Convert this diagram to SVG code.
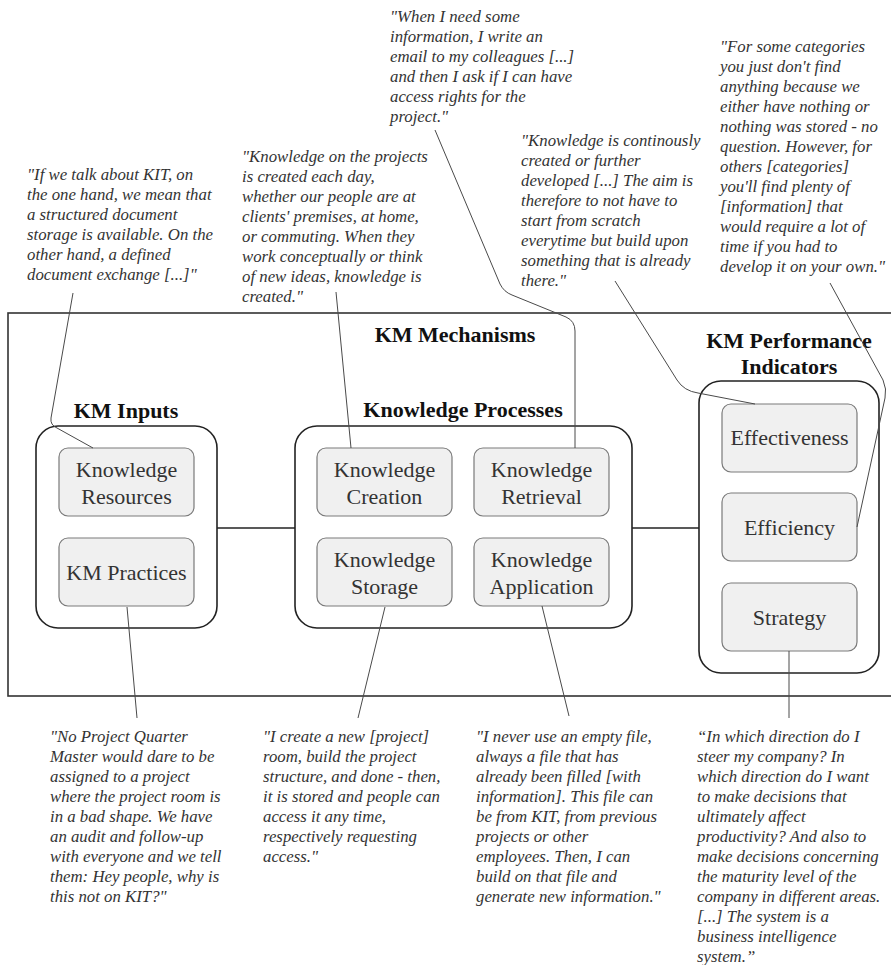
<svg xmlns="http://www.w3.org/2000/svg" width="891" height="965" viewBox="0 0 891 965">
  <style>
    .q { font-family: "Liberation Serif", "Times New Roman", serif; font-style: italic; font-size: 16.8px; fill: #333; }
    .h { font-family: "Liberation Serif", "Times New Roman", serif; font-weight: bold; font-size: 22px; fill: #111; text-anchor: middle; }
    .t { font-family: "Liberation Serif", "Times New Roman", serif; font-size: 22px; fill: #333; text-anchor: middle; }
    .box { fill: #f0f0f0; stroke: #7a7a7a; stroke-width: 1.2; }
    .grp { fill: #fff; stroke: #222; stroke-width: 1.6; }
    .frame { fill: #fff; stroke: #333; stroke-width: 1.6; }
    .wire { stroke: #222; stroke-width: 1.6; fill: none; }
    .link { fill: none; stroke: #4a4a4a; stroke-width: 1; }
  </style>

  <!-- overall mechanisms frame (runs past the right edge) -->
  <g id="km-mechanisms">
    <rect class="frame" x="8" y="313" width="900" height="383"/>
    <text class="h" x="455" y="342">KM Mechanisms</text>
  </g>

  <!-- links between the three groups -->
  <g id="connectors">
    <line class="wire" x1="217" y1="528" x2="295" y2="528"/>
    <line class="wire" x1="632" y1="528" x2="699" y2="528"/>
  </g>

  <g id="km-inputs">
    <rect class="grp" x="36" y="426" width="181" height="202" rx="22"/>
    <text class="h" x="126" y="418">KM Inputs</text>
  </g>
  <g id="knowledge-resources">
    <rect class="box" x="59" y="448" width="135" height="68" rx="9"/>
    <text class="t" x="126.5" y="477">Knowledge</text>
    <text class="t" x="126.5" y="504">Resources</text>
  </g>
  <g id="km-practices">
    <rect class="box" x="59" y="538" width="135" height="68" rx="9"/>
    <text class="t" x="126.5" y="580">KM Practices</text>
  </g>

  <g id="knowledge-processes">
    <rect class="grp" x="295" y="426" width="337" height="202" rx="22"/>
    <text class="h" x="463" y="417">Knowledge Processes</text>
  </g>
  <g id="knowledge-creation">
    <rect class="box" x="317" y="448" width="135" height="68" rx="9"/>
    <text class="t" x="384.5" y="477">Knowledge</text>
    <text class="t" x="384.5" y="504">Creation</text>
  </g>
  <g id="knowledge-retrieval">
    <rect class="box" x="474" y="448" width="135" height="68" rx="9"/>
    <text class="t" x="541.5" y="477">Knowledge</text>
    <text class="t" x="541.5" y="504">Retrieval</text>
  </g>
  <g id="knowledge-storage">
    <rect class="box" x="317" y="538" width="135" height="68" rx="9"/>
    <text class="t" x="384.5" y="567">Knowledge</text>
    <text class="t" x="384.5" y="594">Storage</text>
  </g>
  <g id="knowledge-application">
    <rect class="box" x="474" y="538" width="135" height="68" rx="9"/>
    <text class="t" x="541.5" y="567">Knowledge</text>
    <text class="t" x="541.5" y="594">Application</text>
  </g>

  <g id="km-performance-indicators">
    <rect class="grp" x="699" y="381" width="180" height="292" rx="22"/>
    <text class="h" x="789" y="348">KM Performance</text>
    <text class="h" x="789" y="374">Indicators</text>
  </g>
  <g id="effectiveness">
    <rect class="box" x="722" y="404" width="135" height="68" rx="9"/>
    <text class="t" x="789.5" y="445">Effectiveness</text>
  </g>
  <g id="efficiency">
    <rect class="box" x="722" y="493" width="135" height="68" rx="9"/>
    <text class="t" x="789.5" y="535">Efficiency</text>
  </g>
  <g id="strategy">
    <rect class="box" x="722" y="583" width="135" height="68" rx="9"/>
    <text class="t" x="789.5" y="625">Strategy</text>
  </g>

  <!-- quote callout leaders -->
  <g id="quote-links">
    <path class="link" d="M73,293 L51,418 Q50,425 57,428 L93,448"/>
    <line class="link" x1="336" y1="292" x2="351" y2="448"/>
    <path class="link" d="M435,130 L500,284 Q504,292 512,295 L566,317 Q575,321 575,331 L575,448"/>
    <path class="link" d="M615,281 L677,380 Q684,391 698,393 L755,404"/>
    <path class="link" d="M830,283 L883,380 Q887,389 885,398 L857,527"/>
    <line class="link" x1="127" y1="607" x2="137" y2="718"/>
    <line class="link" x1="385" y1="607" x2="358" y2="718"/>
    <line class="link" x1="542" y1="606" x2="569" y2="716"/>
    <line class="link" x1="789" y1="651" x2="789" y2="718"/>
  </g>

  <!-- interview quotes -->
  <g id="quote-kit">
    <text class="q">
      <tspan x="27" y="180">"If we talk about KIT, on</tspan>
      <tspan x="27" y="200">the one hand, we mean that</tspan>
      <tspan x="27" y="220">a structured document</tspan>
      <tspan x="27" y="240">storage is available. On the</tspan>
      <tspan x="27" y="260">other hand, a defined</tspan>
      <tspan x="27" y="280">document exchange [...]"</tspan>
    </text>
  </g>
  <g id="quote-creation">
    <text class="q">
      <tspan x="242" y="162">"Knowledge on the projects</tspan>
      <tspan x="242" y="182">is created each day,</tspan>
      <tspan x="242" y="202">whether our people are at</tspan>
      <tspan x="242" y="222">clients' premises, at home,</tspan>
      <tspan x="242" y="242">or commuting. When they</tspan>
      <tspan x="242" y="262">work conceptually or think</tspan>
      <tspan x="242" y="282">of new ideas, knowledge is</tspan>
      <tspan x="242" y="302">created."</tspan>
    </text>
  </g>
  <g id="quote-retrieval">
    <text class="q">
      <tspan x="390" y="22">"When I need some</tspan>
      <tspan x="390" y="42">information, I write an</tspan>
      <tspan x="390" y="62">email to my colleagues [...]</tspan>
      <tspan x="390" y="82">and then I ask if I can have</tspan>
      <tspan x="390" y="102">access rights for the</tspan>
      <tspan x="390" y="122">project."</tspan>
    </text>
  </g>
  <g id="quote-effectiveness">
    <text class="q">
      <tspan x="521" y="146">"Knowledge is continously</tspan>
      <tspan x="521" y="166">created or further</tspan>
      <tspan x="521" y="186">developed [...] The aim is</tspan>
      <tspan x="521" y="206">therefore to not have to</tspan>
      <tspan x="521" y="226">start from scratch</tspan>
      <tspan x="521" y="246">everytime but build upon</tspan>
      <tspan x="521" y="266">something that is already</tspan>
      <tspan x="521" y="286">there."</tspan>
    </text>
  </g>
  <g id="quote-efficiency">
    <text class="q">
      <tspan x="720" y="52">"For some categories</tspan>
      <tspan x="720" y="72">you just don't find</tspan>
      <tspan x="720" y="92">anything because we</tspan>
      <tspan x="720" y="112">either have nothing or</tspan>
      <tspan x="720" y="132">nothing was stored - no</tspan>
      <tspan x="720" y="152">question. However, for</tspan>
      <tspan x="720" y="172">others [categories]</tspan>
      <tspan x="720" y="192">you'll find plenty of</tspan>
      <tspan x="720" y="212">[information] that</tspan>
      <tspan x="720" y="232">would require a lot of</tspan>
      <tspan x="720" y="252">time if you had to</tspan>
      <tspan x="720" y="272">develop it on your own."</tspan>
    </text>
  </g>
  <g id="quote-practices">
    <text class="q">
      <tspan x="50" y="742">"No Project Quarter</tspan>
      <tspan x="50" y="762">Master would dare to be</tspan>
      <tspan x="50" y="782">assigned to a project</tspan>
      <tspan x="50" y="802">where the project room is</tspan>
      <tspan x="50" y="822">in a bad shape. We have</tspan>
      <tspan x="50" y="842">an audit and follow-up</tspan>
      <tspan x="50" y="862">with everyone and we tell</tspan>
      <tspan x="50" y="882">them: Hey people, why is</tspan>
      <tspan x="50" y="902">this not on KIT?"</tspan>
    </text>
  </g>
  <g id="quote-storage">
    <text class="q">
      <tspan x="263" y="742">"I create a new [project]</tspan>
      <tspan x="263" y="762">room, build the project</tspan>
      <tspan x="263" y="782">structure, and done - then,</tspan>
      <tspan x="263" y="802">it is stored and people can</tspan>
      <tspan x="263" y="822">access it any time,</tspan>
      <tspan x="263" y="842">respectively requesting</tspan>
      <tspan x="263" y="862">access."</tspan>
    </text>
  </g>
  <g id="quote-application">
    <text class="q">
      <tspan x="476" y="742">"I never use an empty file,</tspan>
      <tspan x="476" y="762">always a file that has</tspan>
      <tspan x="476" y="782">already been filled [with</tspan>
      <tspan x="476" y="802">information]. This file can</tspan>
      <tspan x="476" y="822">be from KIT, from previous</tspan>
      <tspan x="476" y="842">projects or other</tspan>
      <tspan x="476" y="862">employees. Then, I can</tspan>
      <tspan x="476" y="882">build on that file and</tspan>
      <tspan x="476" y="902">generate new information."</tspan>
    </text>
  </g>
  <g id="quote-strategy">
    <text class="q">
      <tspan x="697" y="742">“In which direction do I</tspan>
      <tspan x="697" y="762">steer my company? In</tspan>
      <tspan x="697" y="782">which direction do I want</tspan>
      <tspan x="697" y="802">to make decisions that</tspan>
      <tspan x="697" y="822">ultimately affect</tspan>
      <tspan x="697" y="842">productivity? And also to</tspan>
      <tspan x="697" y="862">make decisions concerning</tspan>
      <tspan x="697" y="882">the maturity level of the</tspan>
      <tspan x="697" y="902">company in different areas.</tspan>
      <tspan x="697" y="922">[...] The system is a</tspan>
      <tspan x="697" y="942">business intelligence</tspan>
      <tspan x="697" y="962">system.”</tspan>
    </text>
  </g>
</svg>
